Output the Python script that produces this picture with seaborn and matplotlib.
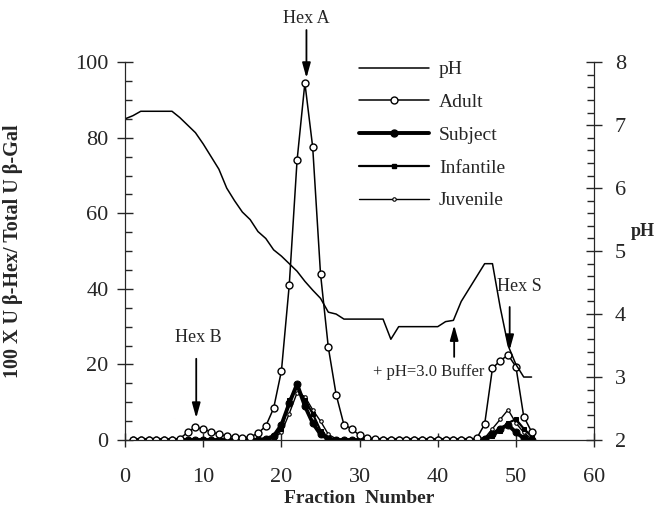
import numpy as np
import pandas as pd
import seaborn as sns
import matplotlib.pyplot as plt
from matplotlib.ticker import MultipleLocator
from matplotlib.lines import Line2D

# fractions 1..52
fractions = list(range(1, 53))
adult = [0, 0, 0, 0, 0, 0, 0.4, 2.0, 3.4, 2.9,
         2.2, 1.5, 1.1, 0.8, 0.6, 0.8, 1.8, 3.7, 8.4, 18.3,
         41, 74, 94.5, 77.5, 44, 24.5, 12, 4, 3, 1.2,
         0.6, 0.3, 0, 0, 0, 0, 0, 0, 0, 0,
         0, 0, 0, 0, 0.5, 4.2, 19, 21, 22.5, 19.4,
         6.2, 2.2]
subject = [0] * 17 + [0.3, 1.0, 4, 9.7, 14.8, 9, 4.5, 1.5, 0.3] + [0] * 19 + [0.3, 1.5, 3, 4, 2, 0.5, 0]
infantile = [0] * 18 + [0.5, 3, 10.5, 14, 10.5, 7, 2.5, 0.5] + [0] * 20 + [1, 2.5, 4.5, 5.5, 3, 1]
juvenile = [0] * 18 + [0.5, 2, 7, 12.5, 11.5, 8, 5, 1.5, 0.3] + [0] * 18 + [0.5, 3, 5.5, 8, 4.5, 2, 0.3]

ph_frac = [0, 1, 2, 6, 7, 8, 9, 10, 11, 12, 13, 14, 15, 16, 17, 18, 19, 20,
           21, 22, 23, 24, 25, 26, 27, 28, 33, 34, 35, 40, 41, 42, 43, 44, 45,
           46, 47, 48, 49, 50, 51, 52]
ph_vals = [7.1, 7.15, 7.22, 7.22, 7.12, 7.0, 6.88, 6.7, 6.5, 6.3, 6.0, 5.8, 5.62,
           5.5, 5.31, 5.2, 5.02, 4.92, 4.8, 4.68, 4.52, 4.38, 4.25, 4.03, 4.0,
           3.92, 3.92, 3.6, 3.8, 3.8, 3.88, 3.9, 4.2, 4.4, 4.6, 4.8, 4.8, 4.1,
           3.5, 3.2, 3.0, 3.0]

sns.set_style('ticks')
plt.rcParams['font.family'] = ['Liberation Serif', 'DejaVu Serif']

df = pd.DataFrame(dict(fraction=fractions, Adult=adult, Subject=subject,
                       Infantile=infantile, Juvenile=juvenile))
phdf = pd.DataFrame(dict(fraction=ph_frac, pH=ph_vals))

fig = plt.figure(figsize=(6.55, 5.12), dpi=100)
ax = fig.add_axes([0.191, 0.1406, 0.716, 0.738])
ax2 = ax.twinx()

styles = {
    'Adult': dict(lw=1.1, marker='o', ms=5, mfc='white', mec='black', mew=1.0),
    'Subject': dict(lw=2.8, marker='o', ms=5, mfc='black', mec='black'),
    'Infantile': dict(lw=1.6, marker='s', ms=3.5, mfc='black', mec='black'),
    'Juvenile': dict(lw=1.0, marker='o', ms=2.5, mfc='white', mec='black', mew=0.8),
}
for name in ['Juvenile', 'Infantile', 'Subject', 'Adult']:
    sns.lineplot(data=df, x='fraction', y=name, ax=ax, color='black', **styles[name])

sns.lineplot(data=phdf, x='fraction', y='pH', ax=ax2, color='black', lw=1.1)

ax.set_xlim(0, 60)
ax.set_ylim(0, 100)
ax2.set_ylim(2, 8)
ax.xaxis.set_major_locator(MultipleLocator(10))
ax.yaxis.set_major_locator(MultipleLocator(20))
ax.yaxis.set_minor_locator(MultipleLocator(5))
ax2.yaxis.set_major_locator(MultipleLocator(1))
ax2.yaxis.set_minor_locator(MultipleLocator(0.2))

for a in (ax, ax2):
    a.spines['top'].set_visible(False)
    a.tick_params(which='major', direction='inout', length=12, width=1.0, labelsize=16)
    a.tick_params(which='minor', direction='in', length=5, width=1.0)
ax.tick_params(axis='x', which='major', direction='inout', length=10, pad=15)
ax.tick_params(axis='y', pad=6)
ax2.tick_params(axis='y', pad=9)

ax.set_xlabel('Fraction  Number', fontsize=14, fontweight='bold', labelpad=2)
ax.set_ylabel('100 X U \u03b2-Hex/ Total U \u03b2-Gal', fontsize=14.5, fontweight='bold')
ax.yaxis.set_label_coords(-0.218, 0.5)
ax2.set_ylabel('')
fig.text(0.982, 0.548, 'pH', fontsize=13, fontweight='bold', ha='center', va='center')

# legend
handles = [Line2D([], [], color='black', lw=1.1)]
for name in ['Adult', 'Subject', 'Infantile', 'Juvenile']:
    handles.append(Line2D([], [], color='black', **styles[name]))
ax2.legend(handles, ['pH', 'Adult', 'Subject', 'Infantile', 'Juvenile'],
           loc='upper left', bbox_to_anchor=(0.462, 1.05), frameon=False,
           fontsize=14, handlelength=3.6, labelspacing=0.78, handletextpad=0.5)

# annotations
arrow = dict(arrowstyle='-|>,head_length=0.9,head_width=0.25', color='black', lw=1.3,
             shrinkA=0, shrinkB=0)
ax.annotate('', xy=(23.2, 95.8), xytext=(23.2, 108.5), arrowprops=arrow, annotation_clip=False)
ax.text(23.2, 111.6, 'Hex A', ha='center', va='center', fontsize=13, clip_on=False)
ax.annotate('', xy=(9.1, 5.8), xytext=(9.1, 21.5), arrowprops=arrow)
ax.text(9.4, 27.0, 'Hex B', ha='center', va='center', fontsize=13)
ax.annotate('', xy=(49.2, 23.8), xytext=(49.2, 35.2), arrowprops=arrow)
ax.text(50.4, 40.5, 'Hex S', ha='center', va='center', fontsize=13)
ax.annotate('', xy=(42.1, 30.4), xytext=(42.1, 22.0), arrowprops=arrow)
ax.text(38.9, 18.0, '+ pH=3.0 Buffer', ha='center', va='center', fontsize=12)

fig.savefig('out.png', dpi=100)
